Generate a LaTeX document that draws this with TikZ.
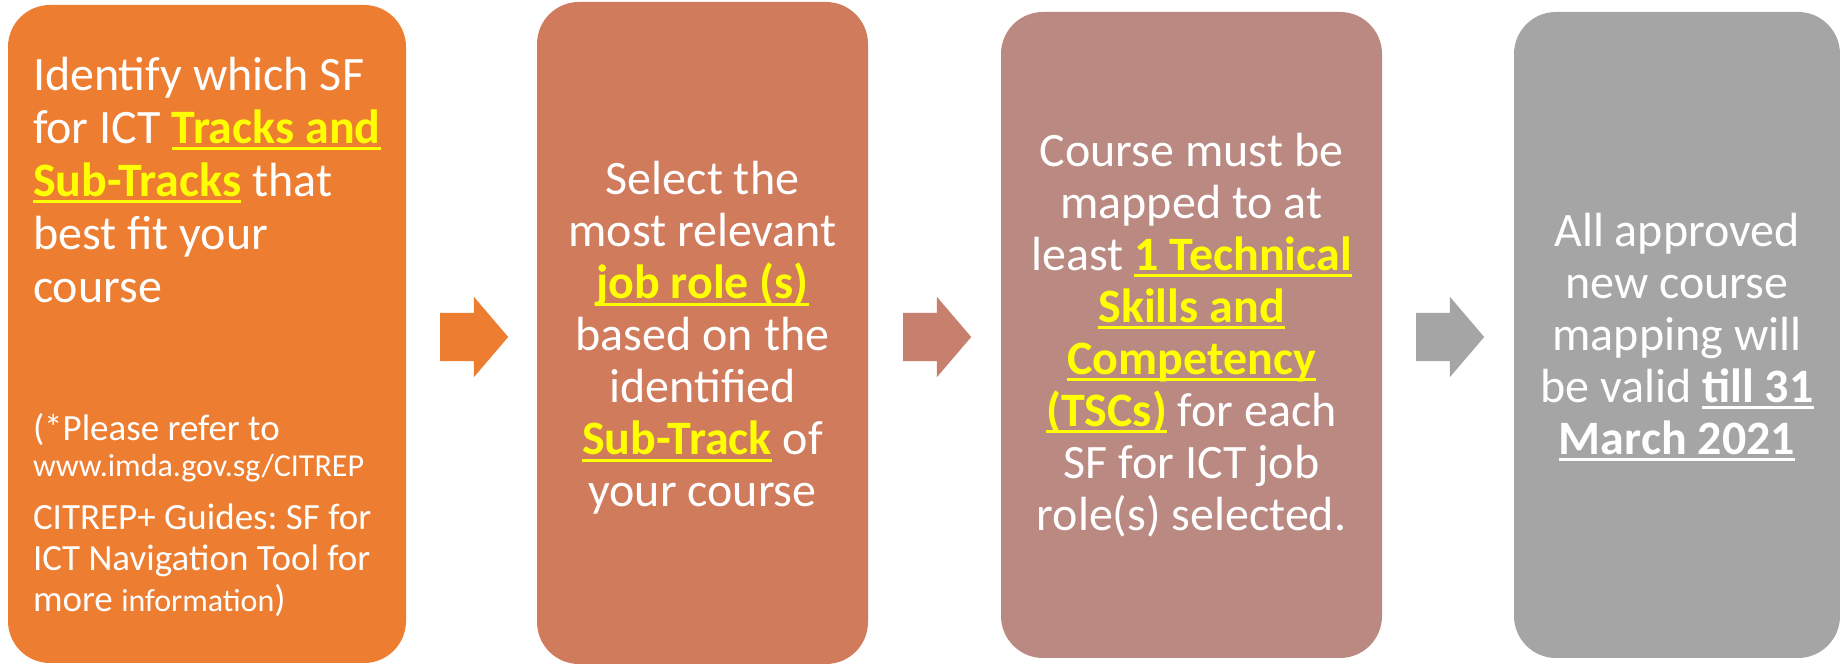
\documentclass[tikz,border=0pt]{standalone}
\usepackage{fontspec}
\setmainfont{Carlito}
\usetikzlibrary{shapes.arrows}

\definecolor{stepone}{HTML}{ED7D31}
\definecolor{steptwo}{HTML}{D17B5D}
\definecolor{stepthree}{HTML}{BA8A82}
\definecolor{stepfour}{HTML}{A5A5A5}
\definecolor{arrowtwo}{HTML}{C77F6E}
\definecolor{keyyellow}{HTML}{FFFF00}

\setlength{\parindent}{0pt}
\frenchspacing
\newsavebox{\ulbox}
\newcommand{\undertext}[1]{\sbox{\ulbox}{#1}\rlap{\rule[-7pt]{\wd\ulbox}{3pt}}\usebox{\ulbox}}
\newcommand{\keyterm}[1]{\textcolor{keyyellow}{\bfseries\undertext{#1}}}

\begin{document}
\begin{tikzpicture}[
  x=1pt,y=1pt,
  stepbox/.style={rounded corners=42pt,inner sep=0pt,text=white,align=center,
    font=\fontsize{48}{52}\selectfont},
  flowarrow/.style={single arrow,single arrow head extend=16pt,single arrow tip angle=99,
    minimum height=68pt,minimum width=0pt,inner xsep=0pt,inner ysep=24pt,anchor=tail}
]
  \useasboundingbox (0,0) rectangle (1840,664);
  % steps
  \node[stepbox,fill=stepone,minimum width=398pt,minimum height=658pt] (s1) at (207,330) {};
  \node[anchor=north west,inner sep=0pt,text width=380pt,align=left,text=white] (t1)
    at ([shift={(25,-52)}]s1.north west) {\spaceskip=0pt\xspaceskip=0pt%
    {\fontsize{48}{53}\selectfont Identify which SF\\
    for ICT \keyterm{Tracks and}\\
    \keyterm{Sub-Tracks} that\\
    best fit your\\
    course\par}
    \vspace{102pt}
    {\fontsize{37}{36}\selectfont (*Please refer to\\
    {\fontsize{32}{36}\selectfont www.imda.gov.sg/CITREP}\par}
    \vspace{12pt}
    {\fontsize{37}{41}\selectfont CITREP+ Guides: SF for\\
    ICT Navigation Tool for\\
    more {\fontsize{32}{41}\selectfont information})\par}};
  \node[stepbox,fill=steptwo,minimum width=331pt,minimum height=662pt] (s2) at (702.5,331)
    {\rule{0pt}{43pt}Select the\\ most relevant\\ \keyterm{job role (s)}\\ based on the\\ identified\\
     \keyterm{Sub-Track} of\\ your course};
  \node[stepbox,fill=stepthree,minimum width=381pt,minimum height=646pt] (s3) at (1191.5,329)
    {Course must be\\ mapped to at\\ least \keyterm{1 Technical}\\ \keyterm{Skills and}\\
     \keyterm{Competency}\\ \keyterm{(TSCs)} for each\\ SF for ICT job\\ role(s) selected.};
  \node[stepbox,fill=stepfour,minimum width=326pt,minimum height=646pt] (s4) at (1677,329)
    {\rule{0pt}{38pt}All approved\\ new course\\ mapping will\\ be valid \undertext{\textbf{till 31}}\\
     \undertext{\textbf{March 2021}}};
  % arrows between steps
  \node[flowarrow,fill=stepone] (a1) at (440,327) {};
  \node[flowarrow,fill=arrowtwo] (a2) at (903,327) {};
  \node[flowarrow,fill=stepfour] (a3) at (1416,327) {};
\end{tikzpicture}
\end{document}
